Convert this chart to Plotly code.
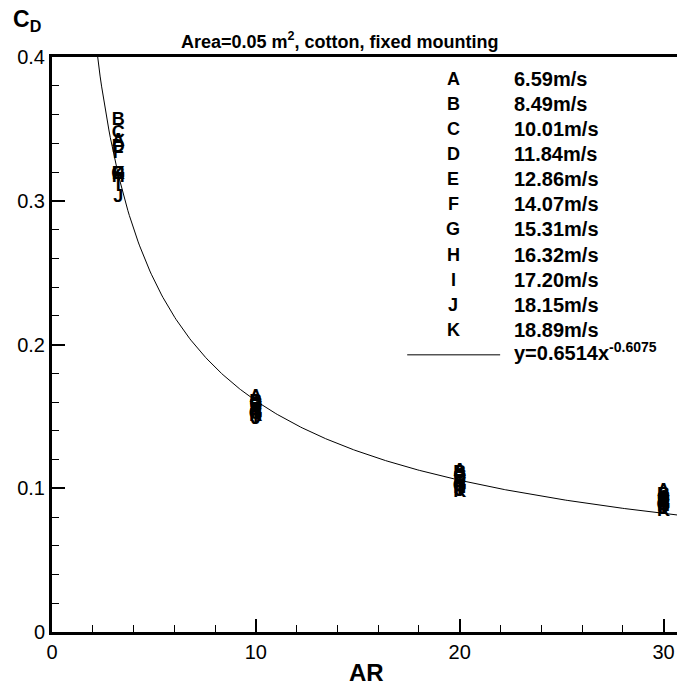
import plotly.graph_objects as go

# ---------------- data ----------------
AR = [3.25, 10, 20, 30]
letters = ["A", "B", "C", "D", "E", "F", "G", "H", "I", "J", "K"]
speeds = ["6.59m/s", "8.49m/s", "10.01m/s", "11.84m/s", "12.86m/s", "14.07m/s",
          "15.31m/s", "16.32m/s", "17.20m/s", "18.15m/s", "18.89m/s"]
cd_A = [0.341, 0.163, 0.112, 0.098]
cd_B = [0.356, 0.160, 0.110, 0.095]
cd_C = [0.347, 0.158, 0.108, 0.093]
cd_D = [0.337, 0.156, 0.106, 0.091]
cd_E = [0.318, 0.154, 0.104, 0.090]
cd_F = [0.333, 0.153, 0.103, 0.089]
cd_G = [0.318, 0.151, 0.101, 0.088]
cd_H = [0.316, 0.150, 0.100, 0.087]
cd_I = [0.311, 0.149, 0.099, 0.086]
cd_J = [0.302, 0.148, 0.098, 0.085]
cd_K = [0.318, 0.150, 0.097, 0.084]
series = [cd_A, cd_B, cd_C, cd_D, cd_E, cd_F, cd_G, cd_H, cd_I, cd_J, cd_K]

fit_a = 0.6514
fit_b = -0.6075
fit_label = "y=0.6514x<sup>-0.6075</sup>"
title = "<b>Area=0.05 m<sup>2</sup>, cotton, fixed mounting</b>"

x_ticks = [0, 10, 20, 30]
y_ticks = [0, 0.1, 0.2, 0.3, 0.4]
y_tick_text = ["0", "0.1", "0.2", "0.3", "0.4"]

# ---------------- layout geometry ----------------
W, H = 677, 688
L, R, T, B = 51.5, 0, 57, 55.5
pw, ph = W - L - R, H - T - B

def px(xp):
    return (xp - L) / pw

def py(yp):
    return (H - B - yp) / ph

FONT = "Liberation Sans, Arial, sans-serif"

fig = go.Figure()

# fit curve
n = 400
x0, x1 = 2.0, 30.66
xs = [x0 + (x1 - x0) * i / (n - 1) for i in range(n)]
ys = [fit_a * x ** fit_b for x in xs]
fig.add_trace(go.Scatter(x=xs, y=ys, mode="lines",
                         line=dict(color="black", width=1), hoverinfo="skip",
                         showlegend=False))

# letter markers
for let, vals in zip(letters, series):
    fig.add_trace(go.Scatter(x=AR, y=vals, mode="text", text=[let] * len(AR),
                             textposition="middle center",
                             textfont=dict(family=FONT, size=18, color="#000000",
                                           weight="bold"),
                             hoverinfo="skip",
                             showlegend=False))

annotations = []
# custom legend
row0, drow = 79, 25.1
for i, (let, sp) in enumerate(zip(letters, speeds)):
    yy = row0 + drow * i
    annotations.append(dict(x=px(453), y=py(yy), xref="paper", yref="paper",
                            text=f"<b>{let}</b>", showarrow=False,
                            xanchor="center", yanchor="middle",
                            font=dict(family=FONT, size=18, color="black")))
    annotations.append(dict(x=px(512), y=py(yy), xref="paper", yref="paper",
                            text=f"<b>{sp}</b>", showarrow=False,
                            xanchor="left", yanchor="middle",
                            font=dict(family=FONT, size=20, color="black")))
fit_y = row0 + drow * 11
annotations.append(dict(x=px(512), y=py(fit_y - 3), xref="paper", yref="paper",
                        text=f"<b>{fit_label}</b>", showarrow=False,
                        xanchor="left", yanchor="middle",
                        font=dict(family=FONT, size=20, color="black")))
shapes = [dict(type="line", xref="paper", yref="paper",
               x0=px(407), x1=px(500), y0=py(fit_y), y1=py(fit_y),
               line=dict(color="black", width=1))]

# title
annotations.append(dict(x=px(340), y=py(40), xref="paper", yref="paper",
                        text=title, showarrow=False, xanchor="center",
                        yanchor="middle",
                        font=dict(family=FONT, size=18, color="black")))
# y-axis title
annotations.append(dict(x=px(10), y=py(20), xref="paper", yref="paper",
                        text="<b>C<sub>D</sub></b>", showarrow=False,
                        xanchor="left", yanchor="middle",
                        font=dict(family=FONT, size=23, color="black")))
# x-axis title
annotations.append(dict(x=px(366), y=py(673), xref="paper", yref="paper",
                        text="<b>AR</b>", showarrow=False, xanchor="center",
                        yanchor="middle",
                        font=dict(family=FONT, size=24, color="black")))

fig.update_layout(
    width=W, height=H,
    margin=dict(l=L, r=R, t=T, b=B, pad=0),
    paper_bgcolor="white", plot_bgcolor="white",
    showlegend=False, hovermode=False,
    annotations=annotations, shapes=shapes,
    xaxis=dict(range=[0, 30.66], tickvals=x_ticks, ticks="inside",
               ticklen=13, tickwidth=2, tickcolor="black",
               minor=dict(dtick=2, tick0=0, ticks="inside", ticklen=7,
                          tickwidth=1, tickcolor="black"),
               showgrid=False, zeroline=False, showline=True, linewidth=3,
               linecolor="black", mirror=True,
               tickfont=dict(family=FONT, size=20, color="black")),
    yaxis=dict(range=[0, 0.4], tickvals=y_ticks, ticktext=y_tick_text,
               ticks="inside", ticklen=13, tickwidth=2, tickcolor="black",
               minor=dict(dtick=0.02, tick0=0, ticks="inside", ticklen=7,
                          tickwidth=1, tickcolor="black"),
               showgrid=False, zeroline=False, showline=True, linewidth=3,
               linecolor="black",
               tickfont=dict(family=FONT, size=20, color="black")),
)

fig.write_html("out.html", config={"displayModeBar": False},
               post_script="document.body.style.margin='0';document.body.style.overflow='hidden';")
